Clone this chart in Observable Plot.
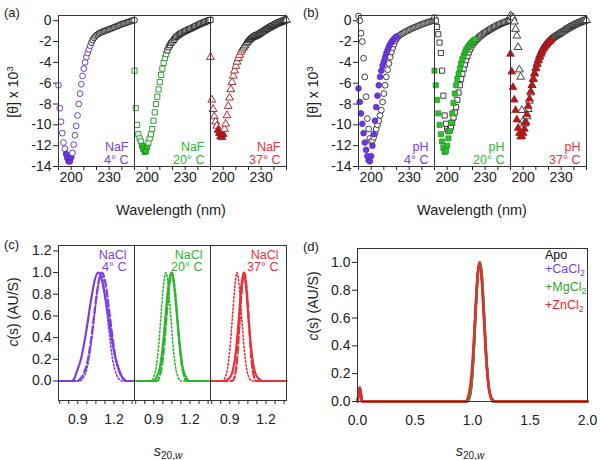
<!DOCTYPE html>
<html><head><meta charset="utf-8">
<script src="https://cdn.jsdelivr.net/npm/d3@7"></script>
<script src="https://cdn.jsdelivr.net/npm/@observablehq/plot@0.6"></script>
<style>
body{margin:0;background:#fff;}
#wrap{position:relative;width:600px;height:460px;font-family:"Liberation Sans",Arial,sans-serif;color:#222;overflow:hidden;background:#fff}
.p{position:absolute}
.t{position:absolute;white-space:nowrap;font-size:14px;line-height:1}
.c{transform:translate(-50%,-50%)}
.rot{transform:translate(-50%,-50%) rotate(-90deg)}
sub{font-size:70%;vertical-align:-0.3em;line-height:0}
</style></head><body><div id="wrap"></div>
<script>
// ---------- DATA ----------
const facetKeys = ["4","20","37"];
const tempLabels = ["4° C","20° C","37° C"];
const textColors = ["#7b3fe8","#2fb52f","#e8323a"];
const markDark = ["#5a2cc0","#1f8f1f","#a3161c"];
const markFill = ["#6a38dc","#2cc02c","#b51a1a"];
const symbols = ["circle","square","triangle"];

const wavelengths = [190,191,192,193,194,195,196,197,198,199,200,201,202,203,204,205,206,207,208,209,210,211,212,213,214,215,216,217,218,219,220,221,222,223,224,225,226,227,228,229,230,231,232,233,234,235,236,237,238,239,240,241,242,243,244,245,246,247,248,249,250];
const waveTicks = [190,200,210,220,230,240,250];
const waveLabelled = [200,230];
const thetaTicks = [0,-2,-4,-6,-8,-10,-12,-14];

// (a) NaF
const naf4 = [-6.2,-8.4,-9.7,-10.8,-11.7,-12.3,-12.8,-13.2,-13.5,-13.5,-13.1,-12.7,-11.9,-11.0,-10.1,-9.1,-8.0,-7.0,-6.1,-5.3,-4.6,-4.0,-3.5,-3.1,-2.75,-2.4,-2.1,-1.85,-1.65,-1.5,-1.38,-1.3,-1.22,-1.16,-1.1,-1.05,-1.0,-0.96,-0.92,-0.87,-0.82,-0.78,-0.73,-0.68,-0.63,-0.58,-0.53,-0.48,-0.43,-0.38,-0.33,-0.29,-0.25,-0.21,-0.17,-0.13,-0.09,-0.05,-0.01,0.02,0.04];
const naf20 = [-4.8,-8.4,-10.0,-10.9,-11.3,-11.6,-12.0,-12.3,-12.6,-12.5,-12.1,-11.7,-11.3,-10.9,-10.4,-9.6,-8.8,-8.0,-7.3,-6.6,-5.9,-5.2,-4.6,-4.05,-3.6,-3.2,-2.85,-2.55,-2.35,-2.15,-2.0,-1.85,-1.7,-1.55,-1.45,-1.35,-1.27,-1.2,-1.13,-1.06,-1.0,-0.94,-0.88,-0.83,-0.78,-0.72,-0.66,-0.6,-0.54,-0.48,-0.42,-0.36,-0.3,-0.25,-0.2,-0.15,-0.1,-0.05,0.0,0.05,0.08];
const naf37 = [-3.5,-7.6,-8.5,-9.2,-9.7,-10.1,-10.5,-10.8,-11.1,-11.2,-10.9,-10.4,-9.9,-9.1,-8.2,-7.4,-6.6,-5.9,-5.3,-4.8,-4.35,-3.95,-3.6,-3.3,-3.0,-2.8,-2.6,-2.4,-2.2,-2.05,-1.9,-1.8,-1.7,-1.6,-1.55,-1.5,-1.45,-1.38,-1.3,-1.22,-1.14,-1.06,-0.98,-0.9,-0.83,-0.76,-0.69,-0.62,-0.55,-0.49,-0.43,-0.37,-0.31,-0.26,-0.21,-0.16,-0.11,-0.06,-0.01,0.04,0.07];

// (b) pH : open (reference) and filled (pH) series
const phOpen4 = [0.45,0.0,-1.2,-2.0,-3.6,-5.4,-7.3,-9.4,-10.4,-11.3,-11.6,-11.5,-11.2,-10.8,-10.4,-10.0,-9.6,-9.1,-8.6,-7.8,-7.0,-6.2,-5.4,-4.7,-4.1,-3.5,-3.0,-2.6,-2.25,-1.95,-1.75,-1.6,-1.45,-1.35,-1.27,-1.2,-1.13,-1.06,-1.0,-0.94,-0.88,-0.82,-0.76,-0.7,-0.65,-0.6,-0.55,-0.5,-0.45,-0.4,-0.35,-0.3,-0.26,-0.22,-0.18,-0.14,-0.1,-0.06,-0.02,0.01,0.03];
const phFilled4 = [-6.5,-7.8,-8.9,-9.9,-10.8,-11.7,-12.4,-13.0,-13.4,-13.5,-13.0,-12.0,-10.9,-9.6,-8.3,-7.2,-6.2,-5.4,-4.8,-4.3,-3.9,-3.5,-3.1,-2.8,-2.5,-2.25,-2.05,-1.9,-1.75,-1.62,-1.5];
const phOpen20 = [0.3,0.0,-0.6,-1.3,-2.1,-3.1,-4.8,-7.2,-9.1,-9.9,-10.4,-10.6,-10.5,-10.2,-9.8,-9.3,-8.8,-8.3,-7.6,-6.9,-6.2,-5.6,-5.1,-4.6,-4.2,-3.8,-3.4,-3.05,-2.75,-2.5,-2.3,-2.12,-1.98,-1.85,-1.72,-1.6,-1.5,-1.4,-1.31,-1.22,-1.14,-1.06,-0.98,-0.9,-0.83,-0.76,-0.69,-0.62,-0.55,-0.49,-0.43,-0.37,-0.31,-0.26,-0.21,-0.16,-0.11,-0.07,-0.03,0.01,0.03];
const phFilled20 = [-4.8,-6.2,-7.6,-8.9,-10.0,-10.9,-11.6,-12.2,-12.6,-12.5,-12.0,-11.3,-10.6,-9.8,-8.9,-7.9,-7.0,-6.2,-5.6,-5.1,-4.6,-4.1,-3.7,-3.35,-3.05,-2.8,-2.6,-2.42,-2.28,-2.15,-2.02,-1.9,-1.8];
const phOpen37 = [0.5,0.4,0.3,-0.1,-0.8,-1.45,-2.55,-4.7,-5.4,-8.6,-9.6,-9.9,-9.7,-9.2,-8.5,-7.7,-6.9,-6.2,-5.6,-5.05,-4.55,-4.1,-3.7,-3.35,-3.05,-2.8,-2.6,-2.42,-2.27,-2.13,-2.0,-1.88,-1.78,-1.68,-1.6,-1.52,-1.45,-1.38,-1.3,-1.22,-1.14,-1.06,-0.98,-0.9,-0.83,-0.76,-0.69,-0.62,-0.55,-0.49,-0.43,-0.37,-0.31,-0.26,-0.21,-0.16,-0.11,-0.06,-0.02,0.02,0.04];
const phFilled37 = [-3.2,-4.9,-6.4,-7.6,-8.6,-9.5,-10.3,-10.8,-11.15,-11.1,-10.8,-10.4,-9.8,-9.0,-8.2,-7.5,-6.8,-6.2,-5.6,-5.1,-4.6,-4.2,-3.85,-3.5,-3.2,-2.95,-2.7,-2.5,-2.35,-2.2,-2.07,-1.95,-1.85];

// (c) NaCl c(s) distributions, [s20,w, c(s)]
const sTicksC = [0.75,0.825,0.9,0.975,1.05,1.125,1.2,1.275,1.35];
const sLabelledC = [0.9,1.2];
const cTicks = [0,0.2,0.4,0.6,0.8,1.0,1.2];
const nacl4Solid = [[0.74,0],[0.85,0],[0.87,0.02],[0.89,0.08],[0.93,0.22],[0.97,0.46],[1.01,0.75],[1.04,0.93],[1.07,1.0],[1.10,0.93],[1.13,0.75],[1.17,0.46],[1.21,0.22],[1.25,0.08],[1.27,0.03],[1.30,0],[1.37,0]];
const nacl4Dash = [[0.74,0],[0.90,0],[0.92,0.02],[0.95,0.07],[0.98,0.18],[1.01,0.38],[1.04,0.65],[1.07,0.90],[1.10,1.0],[1.13,0.90],[1.16,0.65],[1.19,0.38],[1.22,0.18],[1.25,0.07],[1.28,0.02],[1.30,0],[1.37,0]];
const nacl4Dot = [[0.74,0],[0.91,0],[0.93,0.01],[0.96,0.06],[0.99,0.19],[1.02,0.42],[1.05,0.72],[1.07,0.88],[1.09,1.0],[1.11,0.92],[1.13,0.76],[1.16,0.45],[1.19,0.19],[1.22,0.06],[1.25,0.01],[1.27,0],[1.37,0]];
const nacl20Solid = [[0.74,0],[0.90,0],[0.925,0.04],[0.945,0.10],[0.965,0.23],[0.985,0.44],[1.005,0.70],[1.025,0.91],[1.045,1.0],[1.065,0.91],[1.085,0.70],[1.105,0.44],[1.125,0.23],[1.145,0.10],[1.165,0.04],[1.19,0],[1.37,0]];
const nacl20Dash = [[0.74,0],[0.93,0],[0.95,0.05],[0.97,0.16],[0.99,0.38],[1.01,0.65],[1.03,0.89],[1.05,1.0],[1.07,0.89],[1.09,0.65],[1.11,0.38],[1.13,0.16],[1.15,0.05],[1.17,0],[1.37,0]];
const nacl20Dot = [[0.74,0],[0.88,0],[0.90,0.04],[0.92,0.13],[0.94,0.32],[0.96,0.61],[0.98,0.88],[1.00,1.0],[1.02,0.88],[1.04,0.61],[1.06,0.32],[1.08,0.13],[1.10,0.04],[1.12,0],[1.37,0]];
const nacl37Solid = [[0.74,0],[0.86,0],[0.89,0.02],[0.915,0.06],[0.935,0.15],[0.955,0.32],[0.975,0.58],[0.995,0.87],[1.015,1.0],[1.035,0.87],[1.055,0.58],[1.075,0.32],[1.095,0.15],[1.115,0.06],[1.14,0.02],[1.17,0],[1.37,0]];
const nacl37Dash = [[0.74,0],[0.92,0],[0.94,0.04],[0.96,0.19],[0.98,0.52],[1.00,0.85],[1.02,1.0],[1.04,0.85],[1.06,0.52],[1.08,0.19],[1.10,0.04],[1.12,0],[1.37,0]];
const nacl37Dot = [[0.74,0],[0.84,0],[0.86,0.03],[0.88,0.11],[0.90,0.29],[0.92,0.56],[0.94,0.85],[0.96,1.0],[0.98,0.85],[1.00,0.56],[1.02,0.29],[1.04,0.11],[1.06,0.03],[1.08,0],[1.37,0]];

// (d) metal ions
const sTicksD = [0,0.5,1.0,1.5,2.0];
const cTicksD = [0,0.2,0.4,0.6,0.8,1.0];
const legendNames = ["Apo","+CaCl","+MgCl","+ZnCl"];
const legendSubs = ["","2","2","2"];
const legendColors = ["#111111","#7b3fe8","#2fa52f","#f02828"];
const sedApo = [[0,0],[0.01,0.05],[0.02,0.1],[0.03,0.05],[0.04,0],[0.95,0],[0.97,0.02],[0.99,0.12],[1.01,0.36],[1.03,0.70],[1.05,0.95],[1.065,1.0],[1.08,0.9],[1.10,0.62],[1.12,0.31],[1.14,0.11],[1.16,0.03],[1.18,0],[2.0,0]];
const sedCa = [[0,0],[0.01,0.05],[0.02,0.1],[0.03,0.05],[0.04,0],[0.95,0],[0.97,0.02],[0.99,0.11],[1.01,0.35],[1.03,0.69],[1.05,0.95],[1.065,1.0],[1.08,0.91],[1.10,0.63],[1.12,0.32],[1.14,0.12],[1.16,0.03],[1.18,0],[2.0,0]];
const sedMg = [[0,0],[0.01,0.05],[0.02,0.1],[0.03,0.05],[0.04,0],[0.955,0],[0.975,0.03],[0.995,0.15],[1.015,0.42],[1.035,0.76],[1.055,0.97],[1.068,1.0],[1.085,0.88],[1.105,0.56],[1.125,0.26],[1.145,0.08],[1.165,0.02],[1.18,0],[2.0,0]];
const sedZn = [[0,0],[0.01,0.05],[0.02,0.1],[0.03,0.05],[0.04,0],[0.94,0],[0.96,0.03],[0.98,0.11],[1.00,0.29],[1.02,0.57],[1.04,0.87],[1.06,1.0],[1.08,0.87],[1.10,0.57],[1.12,0.29],[1.14,0.11],[1.16,0.03],[1.18,0.01],[1.20,0],[2.0,0]];

// ---------- HELPERS ----------
const wrap = document.getElementById("wrap");
const FONT = "Liberation Sans, Arial, Helvetica, sans-serif";
function place(svg, left, top, w, h) {
  const d = document.createElement("div");
  d.className = "p";
  Object.assign(d.style, {left: left + "px", top: top + "px", width: w + "px", height: h + "px"});
  d.appendChild(svg);
  wrap.appendChild(d);
}
function label(html, x, y, cls, extra) {
  const d = document.createElement("div");
  d.className = "t " + (cls || "");
  d.innerHTML = html;
  Object.assign(d.style, {left: x + "px", top: y + "px"}, extra || {});
  wrap.appendChild(d);
}
const baseStyle = {fontFamily: FONT, fontSize: "14px", color: "#222", background: "transparent", overflow: "visible"};
const near = (arr, d) => arr.some(v => Math.abs(v - d) < 1e-9);

// ---------- CD PANELS (a) and (b) ----------
function cdPlot(markList, saltName) {
  return Plot.plot({
    width: 300, height: 230,
    marginLeft: 57, marginRight: 14, marginTop: 15, marginBottom: 64,
    style: baseStyle,
    color: {type: "identity"},
    fx: {domain: facetKeys, padding: 0, axis: null},
    x: {domain: [190, 250], ticks: waveTicks, tickFormat: d => near(waveLabelled, d) ? String(d) : "", tickSize: 4, tickPadding: 2, label: null},
    y: {domain: [-14, 0.5], ticks: thetaTicks, tickFormat: d => String(d), tickSize: 5, tickPadding: 2, label: null},
    marks: [
      ...markList,
      Plot.frame({stroke: "#333", strokeWidth: 1}),
      Plot.text(facetKeys, {
        fx: d => d, text: (d, i) => saltName + "\n" + tempLabels[i], fill: (d, i) => textColors[i],
        frameAnchor: "bottom-right", textAnchor: "end", lineAnchor: "bottom",
        dx: -6, dy: -3, fontSize: 12.5, lineHeight: 1.02
      })
    ]
  });
}

// (a)
const aMarks = [naf4, naf20, naf37].map((arr, k) => {
  const rows = arr.map((v, i) => ({fx: facetKeys[k], w: wavelengths[i], v}));
  return Plot.dot(rows, {
    x: "w", y: "v", fx: "fx", symbol: symbols[k], r: 2.9, strokeWidth: 0.9,
    stroke: d => d.w <= 215 ? markDark[k] : "#1a1a1a",
    fill: d => (d.w >= 196 && d.w <= 200) ? markFill[k] : "white"
  });
});
place(cdPlot(aMarks, "NaF"), 0, 0, 300, 230);

// (b)
const bMarks = [];
[[phOpen4, phFilled4], [phOpen20, phFilled20], [phOpen37, phFilled37]].forEach(([op, fi], k) => {
  const openRows = op.map((v, i) => ({fx: facetKeys[k], w: wavelengths[i], v}));
  const fillRows = fi.map((v, i) => ({fx: facetKeys[k], w: wavelengths[i], v}));
  bMarks.push(Plot.dot(openRows, {x: "w", y: "v", fx: "fx", symbol: symbols[k], r: 2.9, stroke: "#2a2a2a", strokeWidth: 0.9, fill: "white"}));
  bMarks.push(Plot.dot(fillRows, {x: "w", y: "v", fx: "fx", symbol: symbols[k], r: 2.9, stroke: markDark[k], strokeWidth: 0.7, fill: markFill[k]}));
});
place(cdPlot(bMarks, "pH"), 300, 0, 300, 230);

// ---------- (c) ----------
const cSets = [[nacl4Solid, nacl4Dash, nacl4Dot], [nacl20Solid, nacl20Dash, nacl20Dot], [nacl37Solid, nacl37Dash, nacl37Dot]];
const styles = [{strokeWidth: 2.2}, {strokeWidth: 2.2, strokeDasharray: "7,3"}, {strokeWidth: 1.6, strokeDasharray: "1.5,2.2"}];
const cMarks = [];
styles.forEach((st, j) => {
  const rows = [];
  cSets.forEach((set, k) => set[j].forEach(([s, c]) => rows.push({fx: facetKeys[k], s, c, k})));
  cMarks.push(Plot.line(rows, {x: "s", y: "c", fx: "fx", z: "k", stroke: d => textColors[d.k], curve: "monotone-x", ...st}));
});
const plotC = Plot.plot({
  width: 300, height: 230,
  marginLeft: 57, marginRight: 14, marginTop: 15, marginBottom: 60,
  style: baseStyle,
  color: {type: "identity"},
  fx: {domain: facetKeys, padding: 0, axis: null},
  x: {domain: [0.74, 1.37], ticks: sTicksC, tickFormat: d => near(sLabelledC, d) ? d.toFixed(1) : "", tickSize: 4, tickPadding: 10, label: null},
  y: {domain: [-0.18, 1.25], ticks: cTicks, tickFormat: d => d.toFixed(1), tickSize: 5, tickPadding: 2, label: null},
  marks: [
    ...cMarks,
    Plot.frame({stroke: "#333", strokeWidth: 1}),
    Plot.text(facetKeys, {
      fx: d => d, text: (d, i) => "NaCl\n" + tempLabels[i], fill: (d, i) => textColors[i],
      frameAnchor: "top-right", textAnchor: "end", lineAnchor: "top",
      dx: -8, dy: 4, fontSize: 12.5, lineHeight: 1.02
    })
  ]
});
place(plotC, 0, 230, 300, 230);

// ---------- (d) ----------
const dRows = [];
[sedApo, sedCa, sedMg, sedZn].forEach((arr, k) => arr.forEach(([s, c]) => dRows.push({s, c, k})));
const plotD = Plot.plot({
  width: 300, height: 230,
  marginLeft: 57, marginRight: 13, marginTop: 18, marginBottom: 59,
  style: baseStyle,
  color: {type: "identity"},
  x: {domain: [0, 2], ticks: sTicksD, tickFormat: d => d.toFixed(1), tickSize: 0, tickPadding: 14, label: null},
  y: {domain: [0, 1.1], ticks: cTicksD, tickFormat: d => d.toFixed(1), tickSize: 5, tickPadding: 2, label: null},
  marks: [
    Plot.line(dRows, {x: "s", y: "c", z: "k", stroke: d => legendColors[d.k], strokeWidth: 2.4, curve: "monotone-x"}),
    Plot.frame({stroke: "#333", strokeWidth: 1})
  ]
});
place(plotD, 300, 230, 300, 230);

// ---------- TEXT OVERLAYS ----------
label("(a)", 4, 6, "", {fontSize: "13px"});
label("(b)", 303, 6, "", {fontSize: "13px"});
label("(c)", 4, 238, "", {fontSize: "13px"});
label("(d)", 303, 240, "", {fontSize: "13px"});
label("Wavelength (nm)", 171, 210, "c", {fontSize: "14.5px"});
label("Wavelength (nm)", 472, 210, "c", {fontSize: "14.5px"});
label("[θ] x 10<sup style='font-size:70%;vertical-align:0.55em;line-height:0'>3</sup>", 13, 92, "rot", {fontSize: "14px"});
label("[θ] x 10<sup style='font-size:70%;vertical-align:0.55em;line-height:0'>3</sup>", 313, 92, "rot", {fontSize: "14px"});
label("<i>c</i>(s) (AU/S)", 13, 312, "rot", {fontSize: "14px"});
label("<i>c</i>(s) (AU/S)", 313, 306, "rot", {fontSize: "14px"});
label("<i>s</i><sub>20,<i>w</i></sub>", 168, 451, "c", {fontSize: "14.5px"});
label("<i>s</i><sub>20,<i>w</i></sub>", 470, 451, "c", {fontSize: "14.5px"});
const legendTops = [249, 263, 281, 299];
legendNames.forEach((n, i) => {
  label(n + (legendSubs[i] ? "<sub>" + legendSubs[i] + "</sub>" : ""), 545, legendTops[i], "", {fontSize: "12.5px", color: legendColors[i]});
});
</script></body></html>
